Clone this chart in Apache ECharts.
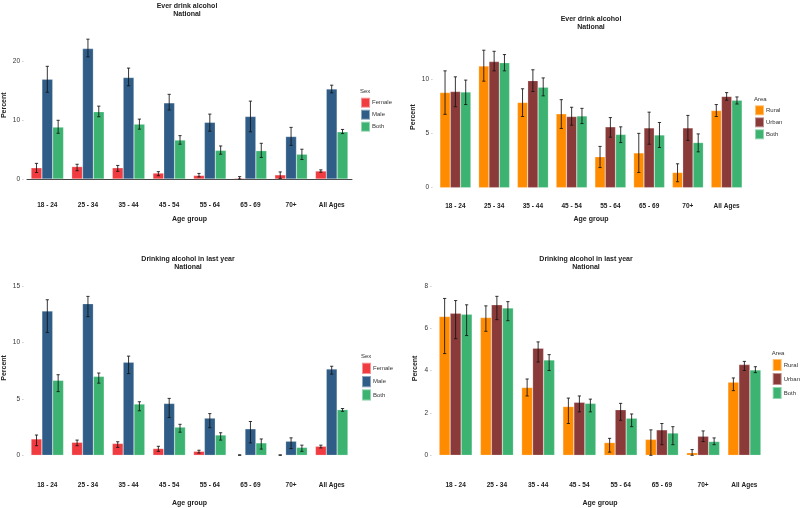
<!DOCTYPE html>
<html>
<head>
<meta charset="utf-8">
<script src="https://cdn.jsdelivr.net/npm/echarts@6/dist/echarts.min.js"></script>
<style>
  html, body { margin: 0; padding: 0; background: #fff; }
  #chart { width: 800px; height: 508px; }
</style>
</head>
<body>
<div id="chart"></div>
<script>
const ageGroups = ['18 - 24', '25 - 34', '35 - 44', '45 - 54', '55 - 64', '65 - 69', '70+', 'All Ages']

// Ever drink alcohol, by sex
const everFemale = [1.9, 2.1, 1.9, 1.0, 0.6, 0.15, 0.7, 1.35]
const everFemaleLo = [1.1, 1.4, 1.3, 0.55, 0.35, 0.0, 0.1, 1.15]
const everFemaleHi = [2.65, 2.5, 2.3, 1.25, 0.95, 0.4, 1.2, 1.55]
const everMale = [16.9, 22.1, 17.2, 12.9, 9.6, 10.6, 7.2, 15.25]
const everMaleLo = [14.7, 20.7, 15.8, 11.7, 8.1, 8.0, 5.7, 14.6]
const everMaleHi = [19.1, 23.7, 18.8, 14.35, 11.0, 13.2, 8.75, 15.9]
const everBoth = [8.8, 11.4, 9.3, 6.6, 4.85, 4.8, 4.2, 8.0]
const everBothLo = [7.75, 10.55, 8.45, 5.9, 4.2, 3.65, 3.3, 7.7]
const everBothHi = [9.95, 12.35, 10.15, 7.35, 5.6, 6.05, 5.05, 8.4]

// Ever drink alcohol, by area
const everRural = [8.75, 11.2, 7.85, 6.8, 2.85, 3.2, 1.4, 7.1]
const everRuralLo = [6.75, 9.8, 6.55, 5.45, 1.85, 1.4, 0.55, 6.55]
const everRuralHi = [10.75, 12.65, 9.1, 8.1, 3.8, 5.0, 2.2, 7.65]
const everUrban = [8.85, 11.6, 9.85, 6.55, 5.6, 5.5, 5.5, 8.4]
const everUrbanLo = [7.45, 10.75, 8.85, 5.75, 4.65, 4.0, 4.35, 8.05]
const everUrbanHi = [10.2, 12.55, 10.85, 7.4, 6.45, 6.95, 6.65, 8.75]
const everAreaBoth = [8.8, 11.5, 9.25, 6.6, 4.9, 4.85, 4.15, 8.05]
const everAreaBothLo = [7.65, 10.75, 8.45, 5.9, 4.15, 3.7, 3.3, 7.7]
const everAreaBothHi = [9.9, 12.25, 10.1, 7.3, 5.6, 6.0, 4.95, 8.35]

// Drinking alcohol in last year, by sex
const yearFemale = [1.45, 1.15, 1.05, 0.6, 0.35, 0.02, 0.02, 0.8]
const yearFemaleLo = [0.85, 0.85, 0.7, 0.35, 0.2, 0.0, 0.0, 0.65]
const yearFemaleHi = [1.8, 1.35, 1.2, 0.8, 0.45, 0.04, 0.04, 0.9]
const yearMale = [12.8, 13.45, 8.25, 4.6, 3.3, 2.35, 1.25, 7.65]
const yearMaleLo = [10.9, 12.3, 7.25, 3.35, 2.45, 1.1, 0.6, 7.2]
const yearMaleHi = [13.8, 14.1, 8.8, 5.05, 3.7, 3.0, 1.55, 7.9]
const yearBoth = [6.65, 7.0, 4.55, 2.5, 1.8, 1.1, 0.7, 4.05]
const yearBothLo = [5.65, 6.4, 3.95, 2.05, 1.35, 0.55, 0.35, 3.9]
const yearBothHi = [7.15, 7.3, 4.75, 2.75, 2.0, 1.45, 0.9, 4.15]

// Drinking alcohol in last year, by area
const yearRural = [6.55, 6.5, 3.2, 2.3, 0.6, 0.75, 0.12, 3.45]
const yearRuralLo = [4.8, 5.85, 2.8, 1.5, 0.15, 0.0, 0.0, 3.05]
const yearRuralHi = [7.4, 7.05, 3.6, 2.7, 0.8, 1.2, 0.27, 3.65]
const yearUrban = [6.7, 7.1, 5.05, 2.5, 2.15, 1.2, 0.9, 4.28]
const yearUrbanLo = [5.5, 6.4, 4.4, 2.05, 1.65, 0.5, 0.65, 4.0]
const yearUrbanHi = [7.3, 7.5, 5.35, 2.8, 2.45, 1.5, 1.15, 4.43]
const yearAreaBoth = [6.65, 6.95, 4.5, 2.45, 1.75, 1.05, 0.65, 4.03]
const yearAreaBothLo = [5.65, 6.35, 4.0, 2.05, 1.35, 0.5, 0.5, 3.9]
const yearAreaBothHi = [7.1, 7.25, 4.75, 2.65, 1.95, 1.35, 0.82, 4.18]

// y tick labels shown on each panel
const everSexTicks = [0, 10, 20]
const everAreaTicks = [0, 5, 10]
const yearSexTicks = [0, 5, 10, 15]
const yearAreaTicks = [0, 2, 4, 6, 8]

const colors = {
    Female: '#f03c41',
    Male: '#2f5d87',
    Both: '#3cb371',
    Rural: '#ff8c00',
    Urban: '#8b3a3a'
}

const font = 'Liberation Sans, Arial, sans-serif'
const panels = [
    {title: 'Ever drink alcohol\nNational', grid: {left: 24, width: 328, top: 31.5, height: 147.5}, max: 25, step: 10, ticks: everSexTicks,
        tx: 187, ty: 2, xOffset: 22, xLine: true, labelMargin: 1, nameGap: 15, yNameGap: 19,
        legend: {left: 360, top: 96.7, h: 10}, legendTitle: 'Sex',
        series: [['Female', everFemale, everFemaleLo, everFemaleHi], ['Male', everMale, everMaleLo, everMaleHi], ['Both', everBoth, everBothLo, everBothHi]]},
    {title: 'Ever drink alcohol\nNational', grid: {left: 436, width: 310, top: 46.4, height: 141.3}, max: 13, step: 5, ticks: everAreaTicks,
        tx: 591, ty: 15, xOffset: 0, xLine: false, labelMargin: 15, nameGap: 28, yNameGap: 19,
        legend: {left: 754, top: 104.3, h: 10}, legendTitle: 'Area',
        series: [['Rural', everRural, everRuralLo, everRuralHi], ['Urban', everUrban, everUrbanLo, everUrbanHi], ['Both', everAreaBoth, everAreaBothLo, everAreaBothHi]]},
    {title: 'Drinking alcohol in last year\nNational', grid: {left: 24, width: 328, top: 280.6, height: 174.7}, max: 15.5, step: 5, ticks: yearSexTicks,
        tx: 188, ty: 255, xOffset: 0, xLine: false, labelMargin: 26, nameGap: 44, yNameGap: 19,
        legend: {left: 361, top: 361.7, h: 11.3}, legendTitle: 'Sex',
        series: [['Female', yearFemale, yearFemaleLo, yearFemaleHi], ['Male', yearMale, yearMaleLo, yearMaleHi], ['Both', yearBoth, yearBothLo, yearBothHi]]},
    {title: 'Drinking alcohol in last year\nNational', grid: {left: 435, width: 330, top: 281.5, height: 173.8}, max: 8.2, step: 2, ticks: yearAreaTicks,
        tx: 586, ty: 255, xOffset: 0, xLine: false, labelMargin: 26, nameGap: 44, yNameGap: 16,
        legend: {left: 771.7, top: 358, h: 12}, legendTitle: 'Area',
        series: [['Rural', yearRural, yearRuralLo, yearRuralHi], ['Urban', yearUrban, yearUrbanLo, yearUrbanHi], ['Both', yearAreaBoth, yearAreaBothLo, yearAreaBothHi]]}
]

function errorBar(slot) {
    return function (params, api) {
        const i = api.value(0)
        const lo = api.coord([i, api.value(1)])
        const hi = api.coord([i, api.value(2)])
        const bw = api.size([1, 0])[0] * 0.8 / 3
        const cx = lo[0] + (slot - 1) * bw
        const cap = 1.6
        const style = {stroke: 'rgba(20,20,20,0.85)', lineWidth: 1}
        return {
            type: 'group',
            children: [
                {type: 'line', shape: {x1: cx, y1: hi[1], x2: cx, y2: lo[1]}, style: style},
                {type: 'line', shape: {x1: cx - cap, y1: hi[1], x2: cx + cap, y2: hi[1]}, style: style},
                {type: 'line', shape: {x1: cx - cap, y1: lo[1], x2: cx + cap, y2: lo[1]}, style: style}
            ]
        }
    }
}

const grid = [], xAxis = [], yAxis = [], series = [], legend = [], graphic = []

panels.forEach(function (p, k) {
    grid.push(p.grid)
    xAxis.push({
        type: 'category', gridIndex: k, data: ageGroups, offset: p.xOffset,
        axisLine: {show: p.xLine, lineStyle: {color: '#444', width: 1}},
        axisTick: {show: false},
        axisLabel: {margin: p.labelMargin, fontSize: 6.5, fontWeight: 'bold', color: '#222', fontFamily: font},
        name: 'Age group', nameLocation: 'middle', nameGap: p.nameGap,
        nameTextStyle: {fontSize: 7, fontWeight: 'bold', color: '#222', fontFamily: font}
    })
    yAxis.push({
        type: 'value', gridIndex: k, min: 0, max: p.max, interval: p.step,
        splitLine: {show: false}, axisLine: {show: false}, axisTick: {show: false},
        axisLabel: {
            margin: 3, fontSize: 6.5, color: '#333', fontFamily: font,
            formatter: function (v) { return p.ticks.indexOf(v) >= 0 ? '{v|' + v + '} {t|-}' : '' },
            rich: {v: {fontSize: 6.5, color: '#333'}, t: {fontSize: 6.5, color: '#aaa'}}
        },
        name: 'Percent', nameLocation: 'middle', nameRotate: 90, nameGap: p.yNameGap,
        nameTextStyle: {fontSize: 7, fontWeight: 'bold', color: '#222', fontFamily: font}
    })
    p.series.forEach(function (s) {
        series.push({
            name: s[0], type: 'bar', xAxisIndex: k, yAxisIndex: k, data: s[1],
            barGap: '0%', barCategoryGap: '20%',
            itemStyle: {color: colors[s[0]], borderColor: 'rgba(255,255,255,0.45)', borderWidth: 0.5}
        })
    })
    p.series.forEach(function (s, j) {
        series.push({
            type: 'custom', xAxisIndex: k, yAxisIndex: k, z: 5,
            renderItem: errorBar(j),
            encode: {x: 0, y: [1, 2]},
            data: s[2].map(function (lo, i) { return [i, lo, s[3][i]] })
        })
    })
    legend.push({
        orient: 'vertical', left: p.legend.left, top: p.legend.top, padding: 0,
        itemWidth: 9, itemHeight: p.legend.h, itemGap: 0, icon: 'rect',
        data: p.series.map(function (s) { return s[0] }),
        textStyle: {fontSize: 6, color: '#333', fontFamily: font, padding: [0, 0, 0, -3]}
    })
    graphic.push({
        type: 'text', left: p.legend.left, top: p.legend.top - 8,
        style: {text: p.legendTitle, fontSize: 6, fill: '#333', fontFamily: font}
    })
    graphic.push({
        type: 'text', x: p.tx, y: p.ty,
        style: {text: p.title, fontSize: 7, fontWeight: 'bold', fill: '#222', fontFamily: font,
            textAlign: 'center', textVerticalAlign: 'top', lineHeight: 8}
    })
})

const chart = echarts.init(document.getElementById('chart'))
chart.setOption({
    animation: false,
    backgroundColor: '#fff',
    grid: grid,
    xAxis: xAxis,
    yAxis: yAxis,
    legend: legend,
    graphic: graphic,
    series: series
})
</script>
</body>
</html>
